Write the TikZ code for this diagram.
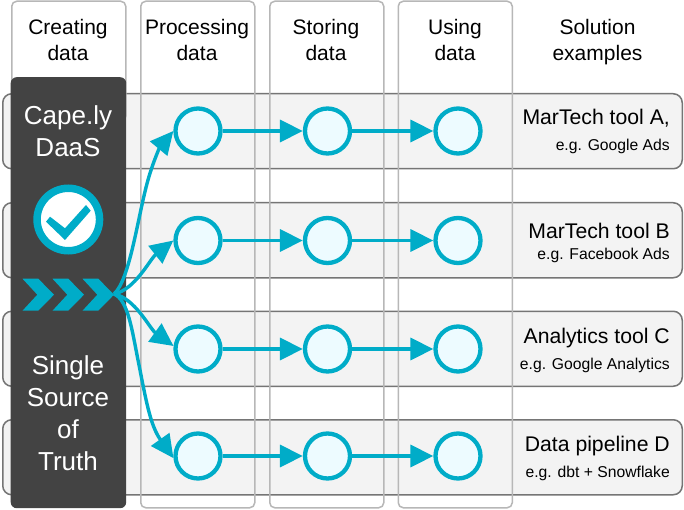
\documentclass[tikz,border=0pt]{standalone}
\usepackage{fontspec}
\setmainfont{Liberation Sans}
\usetikzlibrary{arrows.meta}
\definecolor{teal}{HTML}{00ACC8}
\definecolor{darkbox}{HTML}{434343}
\definecolor{rowfill}{HTML}{F3F3F3}
\definecolor{rowline}{HTML}{757575}
\definecolor{colline}{HTML}{B7B7B7}
\definecolor{dotfill}{HTML}{EDFBFF}
\tikzset{
 rowbox/.style={draw=rowline,fill=rowfill,line width=1.5pt,rounded corners=9pt,minimum width=679.5pt,minimum height=75pt,anchor=north west,inner sep=0pt},
 colbox/.style={draw=colline,line width=1.5pt,rounded corners=5pt,minimum width=114pt,anchor=north west,inner sep=0pt},
 head/.style={align=center,font=\fontsize{21}{26}\selectfont,text=black,inner sep=0pt},
 darktext/.style={align=center,font=\fontsize{26}{32}\selectfont,text=white,inner sep=0pt},
 dot/.style={circle,draw=teal,fill=dotfill,line width=4.3pt,minimum size=45pt,inner sep=0pt},
 flow/.style={draw=teal,line width=3.4pt,-{Triangle[length=23pt,width=22pt]}},
 title/.style={anchor=base east,font=\fontsize{21.2}{24}\selectfont,inner sep=0pt},
 sub/.style={anchor=base east,font=\fontsize{15.7}{18}\selectfont,inner sep=0pt},
}
\begin{document}
\begin{tikzpicture}[x=1pt,y=-1pt]
\useasboundingbox (0,0) rectangle (684,510);
\fill[white] (0,0) rectangle (684,510);
% rows
\node[rowbox] (r1) at (2,93) {};
\node[rowbox] (r2) at (2,202) {};
\node[rowbox] (r3) at (2,310.5) {};
\node[rowbox] (r4) at (2,419) {};
% columns
\node[colbox,minimum height=120pt] (c1) at (11,0.5) {};
\node[colbox,minimum height=506.5pt] (c2) at (140,0.5) {};
\node[colbox,minimum height=506.5pt] (c3) at (269,0.5) {};
\node[colbox,minimum height=506.5pt] (c4) at (397.5,0.5) {};
% heads
\node[head] (h1) at (68,40) {Creating\\data};
\node[head] (h2) at (197,40) {Processing\\data};
\node[head] (h3) at (326,40) {Storing\\data};
\node[head] (h4) at (455,40) {Using\\data};
\node[head] (h5) at (597.5,42) {Solution\\examples};
% dark panel
\node[fill=darkbox,rounded corners=6pt,minimum width=115.5pt,minimum height=431pt,anchor=north west,inner sep=0pt] (panel) at (10.5,77) {};
\node[darktext] (t1) at (68,131) {Cape.ly\\DaaS};
\node[darktext] (t2) at (68,413) {Single\\Source\\of\\Truth};
% check icon
\node[circle,fill=white,draw=teal,line width=7.5pt,minimum size=62.5pt,inner sep=0pt] (badge) at (68.3,219.5) {};
\fill[teal] (50,216.7) -- (65,228.3) -- (86,205) -- (90.7,210.7) -- (65,240) -- (46,221.7) -- cycle;
% chevrons
\foreach \d in {0,30,60}{
 \fill[teal] (22.5+\d,278.7) -- (38.3+\d,278.7) -- (54+\d,294.7) -- (38.3+\d,310.7) -- (22.5+\d,310.7) -- (37.3+\d,294.7) -- cycle;
}
\coordinate (src) at (114,294);
\coordinate (via1) at (148,180);
\coordinate (via4) at (138,360);
% dots
\foreach \r/\y in {1/131,2/240.5,3/349,4/456}{
 \node[dot] (a\r) at (198,\y) {};
 \node[dot] (b\r) at (327.5,\y) {};
 \node[dot] (d\r) at (458,\y) {};
 \draw[flow] (a\r) -- (b\r);
 \draw[flow] (b\r) -- (d\r);
}
\draw[flow] (src) .. controls (130,280) and (138,215) .. (via1) .. controls (153,162) and (160,147) .. (a1.west);
\draw[flow] (src) .. controls (135,290) and (150,259) .. (a2.west);
\draw[flow] (src) .. controls (135,298) and (150,329) .. (a3.173);
\draw[flow] (src) .. controls (128,300) and (132,330) .. (via4) .. controls (146,400) and (150,425) .. (a4.185);
% examples
\node[title] (e1) at (670,125) {MarTech tool A,};
\node[sub] (f1) at (670,151) {e.g. Google Ads};
\node[title] (e2) at (670,239) {MarTech tool B};
\node[sub] (f2) at (670,259) {e.g. Facebook Ads};
\node[title] (e3) at (670,343) {Analytics tool C};
\node[sub] (f3) at (670,369) {e.g. Google Analytics};
\node[title] (e4) at (670,451) {Data pipeline D};
\node[sub] (f4) at (670,477) {e.g. dbt + Snowflake};
\end{tikzpicture}
\end{document}
